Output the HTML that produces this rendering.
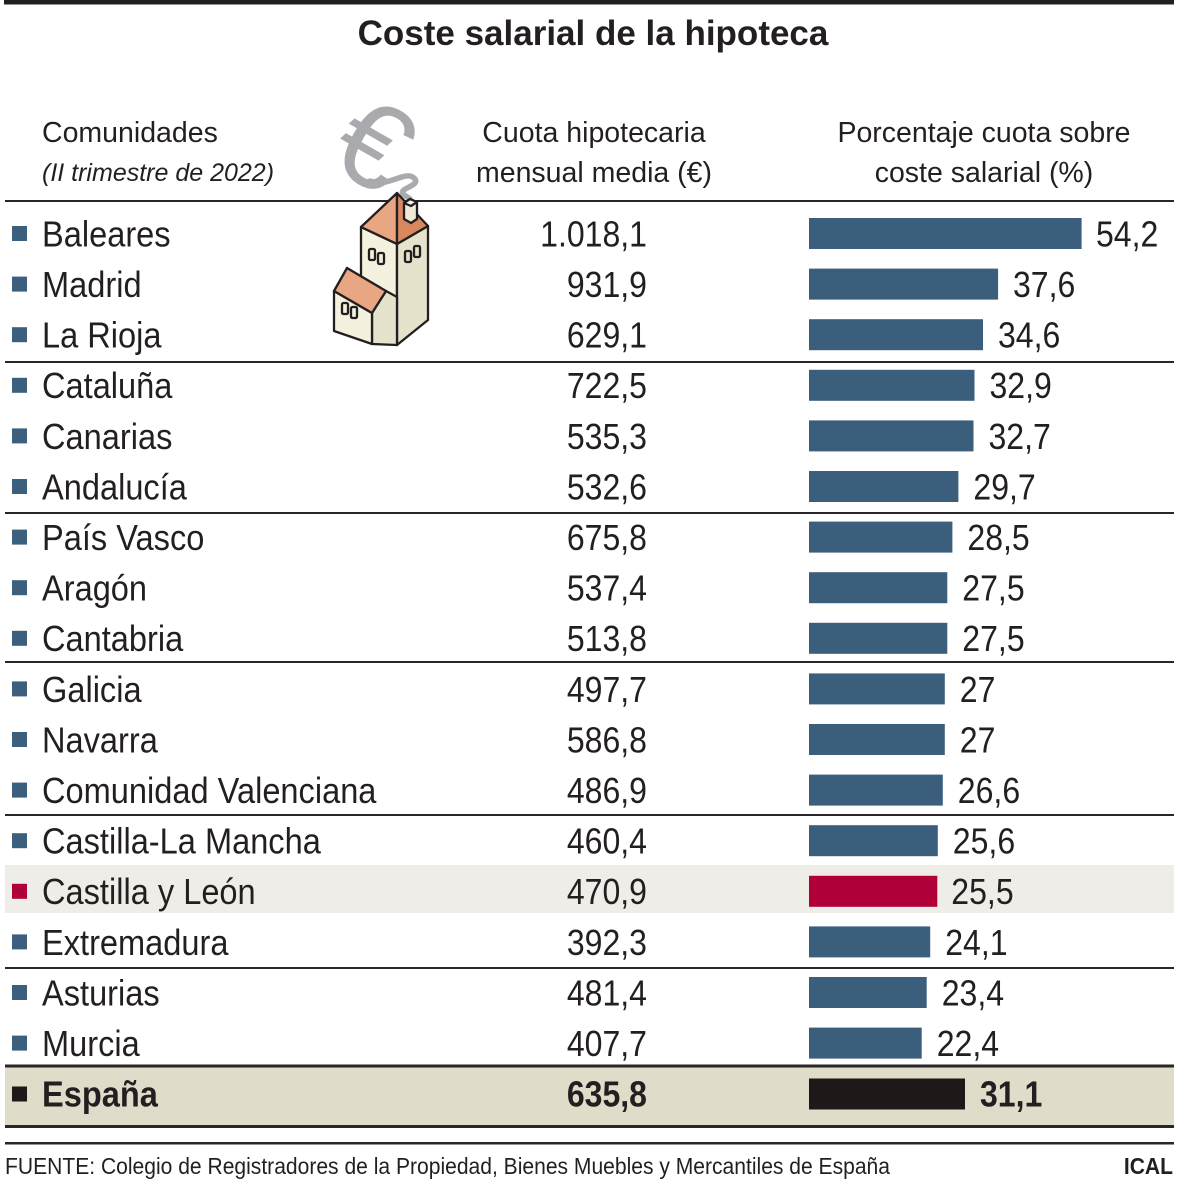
<!DOCTYPE html>
<html><head><meta charset="utf-8"><style>
html,body{margin:0;padding:0;background:#fff;}
svg{display:block;}
text{font-family:"Liberation Sans",Arial,sans-serif;fill:#231f20;}
</style></head><body>
<svg width="1179" height="1183" viewBox="0 0 1179 1183" xmlns="http://www.w3.org/2000/svg">
<rect x="0" y="0" width="1179" height="1183" fill="#fff"/>
<rect x="4" y="0" width="1170" height="4.5" fill="#231f20"/>
<text x="593" y="45" font-size="35" font-weight="bold" text-anchor="middle">Coste salarial de la hipoteca</text>
<text x="42" y="142" font-size="28.5">Comunidades</text>
<text x="42" y="181" font-size="25" font-style="italic">(II trimestre de 2022)</text>
<text x="594" y="142" font-size="28.5" text-anchor="middle">Cuota hipotecaria</text>
<text x="594" y="182" font-size="28.5" text-anchor="middle">mensual media (€)</text>
<text x="984" y="142" font-size="28.5" text-anchor="middle">Porcentaje cuota sobre</text>
<text x="984" y="182" font-size="28.5" text-anchor="middle">coste salarial (%)</text>

<rect x="5" y="865" width="1169" height="48" fill="#eeede7"/>
<rect x="5" y="1066" width="1169" height="60" fill="#dfdcc9"/>

<g fill="#2a2627">
<rect x="5" y="200" width="1169" height="2"/>
<rect x="5" y="361" width="1169" height="2"/>
<rect x="5" y="512" width="1169" height="2"/>
<rect x="5" y="661" width="1169" height="2"/>
<rect x="5" y="814" width="1169" height="2"/>
<rect x="5" y="967" width="1169" height="2"/>
<rect x="5" y="1064.5" width="1169" height="3"/>
<rect x="5" y="1125" width="1169" height="3"/>
<rect x="5" y="1142" width="1169" height="2.5"/>
</g>

<g font-size="36">
<rect x="12" y="226" width="15" height="15" fill="#3d5f7e"/>
<text transform="translate(42,246.4) scale(0.905,1)">Baleares</text>
<text transform="translate(647,246.4) scale(0.89,1)" text-anchor="end">1.018,1</text>
<rect x="809" y="218" width="272.6" height="31" fill="#3b5e7d"/>
<text transform="translate(1096,246.4) scale(0.89,1)">54,2</text>

<rect x="12" y="276.6" width="15" height="15" fill="#3d5f7e"/>
<text transform="translate(42,297) scale(0.905,1)">Madrid</text>
<text transform="translate(647,297) scale(0.89,1)" text-anchor="end">931,9</text>
<rect x="809" y="268.6" width="189.1" height="31" fill="#3b5e7d"/>
<text transform="translate(1013,297) scale(0.89,1)">37,6</text>

<rect x="12" y="327.2" width="15" height="15" fill="#3d5f7e"/>
<text transform="translate(42,347.6) scale(0.905,1)">La Rioja</text>
<text transform="translate(647,347.6) scale(0.89,1)" text-anchor="end">629,1</text>
<rect x="809" y="319.2" width="174" height="31" fill="#3b5e7d"/>
<text transform="translate(998,347.6) scale(0.89,1)">34,6</text>

<rect x="12" y="377.8" width="15" height="15" fill="#3d5f7e"/>
<text transform="translate(42,398.2) scale(0.905,1)">Cataluña</text>
<text transform="translate(647,398.2) scale(0.89,1)" text-anchor="end">722,5</text>
<rect x="809" y="369.8" width="165.5" height="31" fill="#3b5e7d"/>
<text transform="translate(989.5,398.2) scale(0.89,1)">32,9</text>

<rect x="12" y="428.4" width="15" height="15" fill="#3d5f7e"/>
<text transform="translate(42,448.8) scale(0.905,1)">Canarias</text>
<text transform="translate(647,448.8) scale(0.89,1)" text-anchor="end">535,3</text>
<rect x="809" y="420.4" width="164.5" height="31" fill="#3b5e7d"/>
<text transform="translate(988.5,448.8) scale(0.89,1)">32,7</text>

<rect x="12" y="479" width="15" height="15" fill="#3d5f7e"/>
<text transform="translate(42,499.4) scale(0.905,1)">Andalucía</text>
<text transform="translate(647,499.4) scale(0.89,1)" text-anchor="end">532,6</text>
<rect x="809" y="471" width="149.4" height="31" fill="#3b5e7d"/>
<text transform="translate(973.4,499.4) scale(0.89,1)">29,7</text>

<rect x="12" y="529.6" width="15" height="15" fill="#3d5f7e"/>
<text transform="translate(42,550) scale(0.905,1)">País Vasco</text>
<text transform="translate(647,550) scale(0.89,1)" text-anchor="end">675,8</text>
<rect x="809" y="521.6" width="143.4" height="31" fill="#3b5e7d"/>
<text transform="translate(967.4,550) scale(0.89,1)">28,5</text>

<rect x="12" y="580.2" width="15" height="15" fill="#3d5f7e"/>
<text transform="translate(42,600.6) scale(0.905,1)">Aragón</text>
<text transform="translate(647,600.6) scale(0.89,1)" text-anchor="end">537,4</text>
<rect x="809" y="572.2" width="138.3" height="31" fill="#3b5e7d"/>
<text transform="translate(962.3,600.6) scale(0.89,1)">27,5</text>

<rect x="12" y="630.8" width="15" height="15" fill="#3d5f7e"/>
<text transform="translate(42,651.2) scale(0.905,1)">Cantabria</text>
<text transform="translate(647,651.2) scale(0.89,1)" text-anchor="end">513,8</text>
<rect x="809" y="622.8" width="138.3" height="31" fill="#3b5e7d"/>
<text transform="translate(962.3,651.2) scale(0.89,1)">27,5</text>

<rect x="12" y="681.4" width="15" height="15" fill="#3d5f7e"/>
<text transform="translate(42,701.8) scale(0.905,1)">Galicia</text>
<text transform="translate(647,701.8) scale(0.89,1)" text-anchor="end">497,7</text>
<rect x="809" y="673.4" width="135.8" height="31" fill="#3b5e7d"/>
<text transform="translate(959.8,701.8) scale(0.89,1)">27</text>

<rect x="12" y="732" width="15" height="15" fill="#3d5f7e"/>
<text transform="translate(42,752.4) scale(0.905,1)">Navarra</text>
<text transform="translate(647,752.4) scale(0.89,1)" text-anchor="end">586,8</text>
<rect x="809" y="724" width="135.8" height="31" fill="#3b5e7d"/>
<text transform="translate(959.8,752.4) scale(0.89,1)">27</text>

<rect x="12" y="782.6" width="15" height="15" fill="#3d5f7e"/>
<text transform="translate(42,803) scale(0.905,1)">Comunidad Valenciana</text>
<text transform="translate(647,803) scale(0.89,1)" text-anchor="end">486,9</text>
<rect x="809" y="774.6" width="133.8" height="31" fill="#3b5e7d"/>
<text transform="translate(957.8,803) scale(0.89,1)">26,6</text>

<rect x="12" y="833.2" width="15" height="15" fill="#3d5f7e"/>
<text transform="translate(42,853.6) scale(0.905,1)">Castilla-La Mancha</text>
<text transform="translate(647,853.6) scale(0.89,1)" text-anchor="end">460,4</text>
<rect x="809" y="825.2" width="128.8" height="31" fill="#3b5e7d"/>
<text transform="translate(952.8,853.6) scale(0.89,1)">25,6</text>

<rect x="12" y="883.8" width="15" height="15" fill="#b0003a"/>
<text transform="translate(42,904.2) scale(0.905,1)">Castilla y León</text>
<text transform="translate(647,904.2) scale(0.89,1)" text-anchor="end">470,9</text>
<rect x="809" y="875.8" width="128.3" height="31" fill="#b0003a"/>
<text transform="translate(951.3,904.2) scale(0.89,1)">25,5</text>

<rect x="12" y="934.4" width="15" height="15" fill="#3d5f7e"/>
<text transform="translate(42,954.8) scale(0.905,1)">Extremadura</text>
<text transform="translate(647,954.8) scale(0.89,1)" text-anchor="end">392,3</text>
<rect x="809" y="926.4" width="121.2" height="31" fill="#3b5e7d"/>
<text transform="translate(945.2,954.8) scale(0.89,1)">24,1</text>

<rect x="12" y="985" width="15" height="15" fill="#3d5f7e"/>
<text transform="translate(42,1005.4) scale(0.905,1)">Asturias</text>
<text transform="translate(647,1005.4) scale(0.89,1)" text-anchor="end">481,4</text>
<rect x="809" y="977" width="117.7" height="31" fill="#3b5e7d"/>
<text transform="translate(941.7,1005.4) scale(0.89,1)">23,4</text>

<rect x="12" y="1035.6" width="15" height="15" fill="#3d5f7e"/>
<text transform="translate(42,1056) scale(0.905,1)">Murcia</text>
<text transform="translate(647,1056) scale(0.89,1)" text-anchor="end">407,7</text>
<rect x="809" y="1027.6" width="112.7" height="31" fill="#3b5e7d"/>
<text transform="translate(936.7,1056) scale(0.89,1)">22,4</text>

<rect x="12" y="1086.5" width="15" height="15" fill="#1e1918"/>
<text transform="translate(42,1106.6) scale(0.905,1)" font-weight="bold">España</text>
<text transform="translate(647,1106.6) scale(0.89,1)" text-anchor="end" font-weight="bold">635,8</text>
<rect x="809" y="1078.5" width="156" height="31" fill="#1e1918"/>
<text transform="translate(980,1106.6) scale(0.89,1)" font-weight="bold">31,1</text>
</g>

<text transform="translate(5,1174) scale(0.916,1)" font-size="23">FUENTE: Colegio de Registradores de la Propiedad, Bienes Muebles y Mercantiles de España</text>
<text transform="translate(1173,1174) scale(0.916,1)" font-size="23" font-weight="bold" text-anchor="end">ICAL</text>

<text x="0" y="43" font-size="120" text-anchor="middle" transform="translate(375,143) rotate(30)" style="fill:#a9aaae">€</text>
<path d="M370,181 C388,188 405,170 414,178 C422,186 398,188 403,194 L410,199" fill="none" stroke="#a9aaae" stroke-width="5.5" stroke-linecap="round"/>

<g stroke="#231f20" stroke-width="2.3" stroke-linejoin="round">
<polygon points="361,227 397,244 397,345 361,328" fill="#f4f1de"/>
<polygon points="397,244 428,226 428,320 397,345" fill="#e6e3cc"/>
<polygon points="397,193 361,227 397,244" fill="#e9a682"/>
<polygon points="397,193 397,244 428,226" fill="#d9875e"/>
<polygon points="404,203 410,199 417,202 417,219 411,223 404,219" fill="#eeebd6"/>
<polygon points="404,203 410,199 417,202 411,206" fill="#f8f6ea"/>
<rect x="369" y="249" width="6" height="11" rx="1.5" fill="#f4f1de"/>
<rect x="378" y="253" width="6" height="11" rx="1.5" fill="#f4f1de"/>
<rect x="405" y="251" width="6" height="11" rx="1.5" fill="#e6e3cc"/>
<rect x="414" y="246" width="6" height="11" rx="1.5" fill="#e6e3cc"/>
<polygon points="372,313 386,291 397,297 397,345 372,344" fill="#e6e3cc"/>
<polygon points="334,291 372,313 372,344 334,331" fill="#f4f1de"/>
<polygon points="334,291 347,268 386,291 372,313" fill="#e9a682"/>
<rect x="342" y="303" width="6" height="11" rx="1.5" fill="#f4f1de"/>
<rect x="351" y="307" width="6" height="11" rx="1.5" fill="#f4f1de"/>
</g>
</svg>
</body></html>
